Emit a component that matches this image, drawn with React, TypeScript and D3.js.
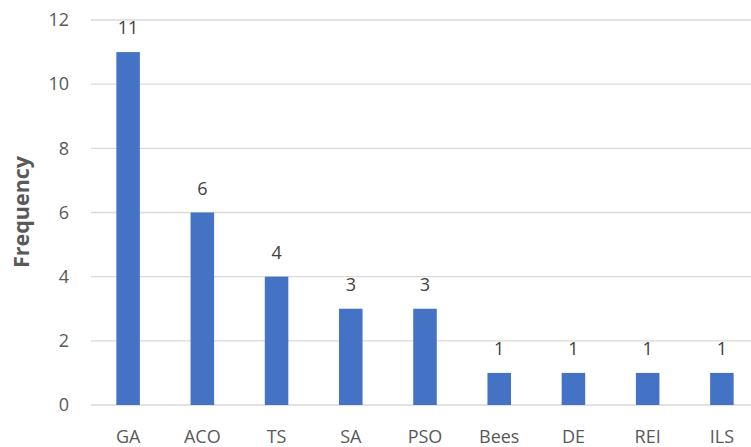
import React from "react";
import * as d3 from "d3";

const categories = ["GA", "ACO", "TS", "SA", "PSO", "Bees", "DE", "REI", "ILS"];
const values = [11, 6, 4, 3, 3, 1, 1, 1, 1];
const yTicks = [0, 2, 4, 6, 8, 10, 12];

export default function App() {
  const W = 751, H = 447;
  const left = 91, right = 759, top = 20, bottom = 405;
  const x = d3.scaleBand<string>().domain(categories).range([left, right]).paddingInner(0.683).paddingOuter(0.3415);
  const y = d3.scaleLinear().domain([0, 12]).range([bottom, top]);
  const font = "'Open Sans', 'Liberation Sans', sans-serif";
  return (
    <svg width={W} height={H} style={{ position: "absolute", left: 0, top: 0, background: "#fff" }}>
      {yTicks.map((t) => (
        <g key={t}>
          <line x1={left} x2={W} y1={y(t)} y2={y(t)} stroke="#d9d9d9" strokeWidth={1.3} />
          <text x={69} y={y(t)} dy="0.35em" textAnchor="end" fontFamily={font} fontSize={18} fill="#595959">{t}</text>
        </g>
      ))}
      {categories.map((c, i) => (
        <g key={c}>
          <rect x={x(c)} y={y(values[i])} width={x.bandwidth()} height={y(0) - y(values[i])} fill="#4472C4" />
          <text x={(x(c) as number) + x.bandwidth() / 2} y={y(values[i]) - 24} dy="0.35em" textAnchor="middle" fontFamily={font} fontSize={18} fill="#404040">{values[i]}</text>
          <text x={(x(c) as number) + x.bandwidth() / 2} y={437} dy="0.35em" textAnchor="middle" fontFamily={font} fontSize={18} fill="#595959">{c}</text>
        </g>
      ))}
      <text transform={`translate(21,${212}) rotate(-90)`} textAnchor="middle" dy="0.35em" fontFamily={font} fontWeight="bold" fontSize={21.5} fill="#595959">Frequency</text>
    </svg>
  );
}
